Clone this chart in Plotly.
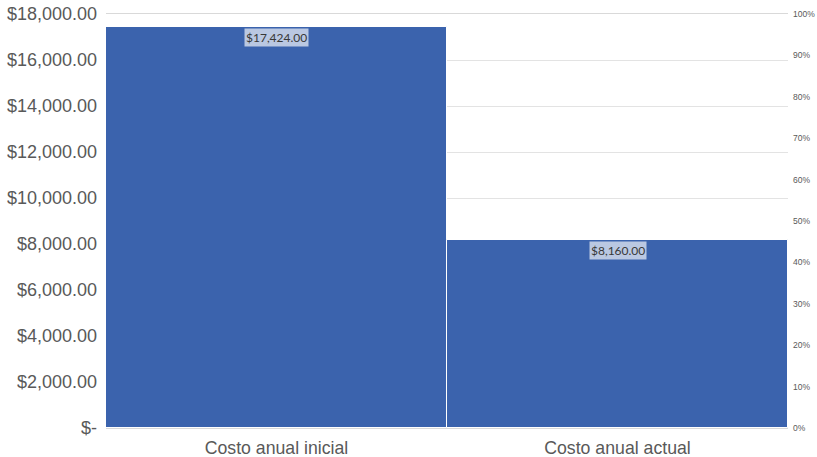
import plotly.graph_objects as go

categories = ["Costo anual inicial", "Costo anual actual"]
values = [17424.00, 8160.00]
label_texts = ["$17,424.00", "$8,160.00"]
y_tickvals = [0, 2000, 4000, 6000, 8000, 10000, 12000, 14000, 16000, 18000]
y_ticktext = ["$-", "$2,000.00", "$4,000.00", "$6,000.00", "$8,000.00", "$10,000.00",
              "$12,000.00", "$14,000.00", "$16,000.00", "$18,000.00"]
y2_tickvals = [0, 0.1, 0.2, 0.3, 0.4, 0.5, 0.6, 0.7, 0.8, 0.9, 1.0]
y2_ticktext = ["0%", "10%", "20%", "30%", "40%", "50%", "60%", "70%", "80%", "90%", "100%"]

fig = go.Figure()
fig.add_trace(go.Bar(
    x=categories, y=values,
    marker=dict(color="#3B63AD", line=dict(color="white", width=1)),
    hoverinfo="skip", showlegend=False,
))
fig.add_trace(go.Scatter(
    x=categories, y=[None, None], yaxis="y2", mode="markers",
    showlegend=False, hoverinfo="skip",
))

for c, v, t in zip(categories, values, label_texts):
    fig.add_annotation(
        x=c, y=v, yref="y", xref="x", text=t, showarrow=False,
        yanchor="top", yshift=-1,
        font=dict(family="Lato, Liberation Sans, sans-serif", size=12, color="#383838"),
        bgcolor="rgba(255,255,255,0.65)", borderpad=1,
    )

fig.update_layout(
    width=817, height=457,
    margin=dict(l=106, r=29, t=14, b=29),
    paper_bgcolor="white", plot_bgcolor="white",
    bargap=0,
    xaxis=dict(
        automargin=False,
        showgrid=False, showline=True, linecolor="#d9d9d9", linewidth=1, mirror=True,
        ticks="", ticklabelstandoff=4,
        tickfont=dict(family="Liberation Sans, Arial, sans-serif", size=17.7, color="#595959"),
    ),
    yaxis=dict(
        automargin=False, ticklabeloverflow="allow",
        range=[0, 18000], tickvals=y_tickvals, ticktext=y_ticktext,
        showgrid=True, gridcolor="#e3e3e3", gridwidth=1, zeroline=False,
        showline=False, ticks="", ticklabelstandoff=8,
        tickfont=dict(family="Liberation Sans, Arial, sans-serif", size=18, color="#595959"),
    ),
    yaxis2=dict(
        automargin=False, ticklabeloverflow="allow",
        overlaying="y", side="right", range=[0, 1],
        tickvals=y2_tickvals, ticktext=y2_ticktext,
        showgrid=False, zeroline=False, showline=False, ticks="", ticklabelstandoff=4,
        tickfont=dict(family="Liberation Sans, Arial, sans-serif", size=8.5, color="#595959"),
    ),
)

fig.write_html(
    "out.html",
    config={"displayModeBar": False},
    post_script="document.body.style.margin='0';document.body.style.overflow='hidden';",
)
